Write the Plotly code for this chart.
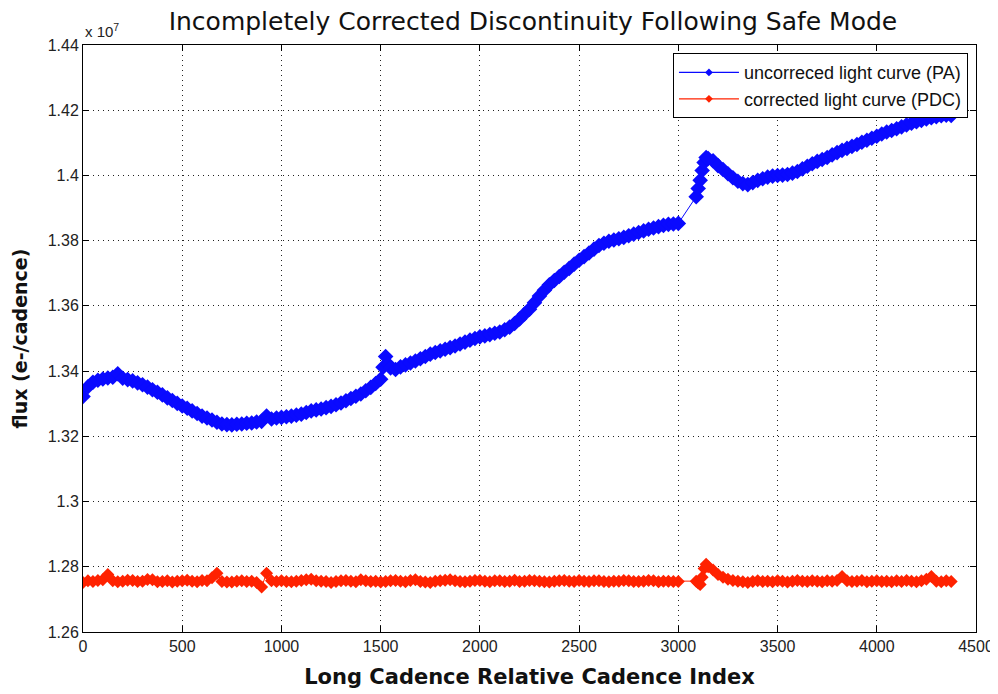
import plotly.graph_objects as go

# ---- data (flux in units of 1e7 e-/cadence) ----
# cadence samples: before the safe-mode gap, and after it
pa_cadence = (list(range(0, 1501, 25)) + [1512, 1525, 1537] + list(range(1550, 3001, 25))
              + [3090, 3100, 3110, 3120, 3130, 3140, 3150] + list(range(3175, 4376, 25)))
pa_flux = [
    1.3322, 1.3352, 1.3366, 1.3372, 1.3376, 1.3379, 1.3381, 1.3392, 1.3378, 1.3374,
    1.3370, 1.3364, 1.3358, 1.3351, 1.3343, 1.3335, 1.3327, 1.3318, 1.3310, 1.3301,
    1.3293, 1.3286, 1.3278, 1.3270, 1.3262, 1.3256, 1.3250, 1.3243, 1.3238, 1.3236,
    1.3235, 1.3237, 1.3238, 1.3240, 1.3241, 1.3244, 1.3246, 1.3262, 1.3253, 1.3256,
    1.3258, 1.3260, 1.3262, 1.3265, 1.3268, 1.3273, 1.3278, 1.3281, 1.3284, 1.3288,
    1.3292, 1.3297, 1.3302, 1.3309, 1.3316, 1.3323, 1.3330, 1.3340, 1.3350, 1.3362,
    1.3375, 1.3412, 1.3445, 1.3422, 1.3410, 1.3405, 1.3413, 1.3419, 1.3425, 1.3431,
    1.3438, 1.3445,
    1.3452, 1.3457, 1.3462, 1.3467, 1.3472, 1.3477, 1.3483, 1.3489, 1.3495, 1.3500,
    1.3505, 1.3508, 1.3512, 1.3516, 1.3520, 1.3527, 1.3535, 1.3546, 1.3560, 1.3575,
    1.3590, 1.3610, 1.3630, 1.3648, 1.3665, 1.3678, 1.3690, 1.3703, 1.3715, 1.3728,
    1.3740, 1.3751, 1.3762, 1.3774, 1.3785, 1.3792, 1.3798, 1.3802, 1.3806, 1.3810,
    1.3815, 1.3820, 1.3825, 1.3830, 1.3835, 1.3839, 1.3843, 1.3847, 1.3850, 1.3851,
    1.3853,
    1.3935, 1.3960, 1.3985, 1.4015, 1.4040, 1.4055, 1.4052,
    1.4045, 1.4030, 1.4018, 1.4005, 1.3993, 1.3982, 1.3975, 1.3972, 1.3978,
    1.3985, 1.3990, 1.3995, 1.3998, 1.4000, 1.4001, 1.4003, 1.4007, 1.4012,
    1.4020, 1.4028, 1.4036, 1.4043, 1.4049, 1.4055, 1.4063, 1.4070, 1.4077,
    1.4083, 1.4089, 1.4095, 1.4102, 1.4108, 1.4114, 1.4120, 1.4127, 1.4133,
    1.4138, 1.4143, 1.4149, 1.4155, 1.4160, 1.4165, 1.4169, 1.4173, 1.4177,
    1.4180, 1.4183, 1.4185, 1.4184,
]

pdc_cadence = list(range(0, 3001, 25)) + [3090, 3100, 3110, 3120, 3130, 3140, 3150] + list(range(3175, 4376, 25))
pdc_flux = [
    1.2752, 1.2757, 1.2755, 1.2758, 1.2760, 1.2776, 1.2757, 1.2754, 1.2756, 1.2759,
    1.2758, 1.2755, 1.2756, 1.2761, 1.2760, 1.2754, 1.2755, 1.2757, 1.2753, 1.2756,
    1.2757, 1.2759, 1.2756, 1.2754, 1.2758, 1.2757, 1.2766, 1.2780, 1.2755, 1.2753,
    1.2753, 1.2756, 1.2757, 1.2755, 1.2756, 1.2752, 1.2738, 1.2780, 1.2757, 1.2755,
    1.2757, 1.2755, 1.2754, 1.2756, 1.2758, 1.2760, 1.2762, 1.2757, 1.2756, 1.2755,
    1.2752, 1.2755, 1.2757, 1.2758, 1.2756, 1.2754, 1.2760, 1.2757, 1.2755, 1.2756,
    1.2753, 1.2755, 1.2757, 1.2758, 1.2756, 1.2754, 1.2758, 1.2760, 1.2755, 1.2753,
    1.2752, 1.2756, 1.2757, 1.2759, 1.2760, 1.2757, 1.2755, 1.2754, 1.2756, 1.2758,
    1.2758, 1.2756, 1.2754, 1.2757, 1.2757, 1.2755, 1.2756, 1.2759, 1.2755, 1.2756,
    1.2758, 1.2757, 1.2756, 1.2754, 1.2753, 1.2756, 1.2757, 1.2758, 1.2756, 1.2755,
    1.2758, 1.2756, 1.2755, 1.2757, 1.2757, 1.2755, 1.2754, 1.2756, 1.2756, 1.2758,
    1.2757, 1.2755, 1.2755, 1.2756, 1.2758, 1.2757, 1.2754, 1.2756, 1.2756, 1.2755,
    1.2755,
    1.2756, 1.2750, 1.2746, 1.2768, 1.2795, 1.2808, 1.2800,
    1.2790, 1.2776, 1.2768, 1.2762, 1.2758, 1.2756, 1.2754, 1.2752, 1.2755,
    1.2757, 1.2755, 1.2756, 1.2754, 1.2757, 1.2756, 1.2753, 1.2756, 1.2758,
    1.2756, 1.2755, 1.2757, 1.2756, 1.2754, 1.2757, 1.2756, 1.2758, 1.2770,
    1.2757, 1.2755, 1.2756, 1.2758, 1.2754, 1.2756, 1.2757, 1.2755, 1.2756,
    1.2754, 1.2757, 1.2755, 1.2758, 1.2756, 1.2754, 1.2757, 1.2762, 1.2770,
    1.2756, 1.2754, 1.2757, 1.2755,
]

y_ticks = [1.26, 1.28, 1.30, 1.32, 1.34, 1.36, 1.38, 1.40, 1.42, 1.44]
y_tick_labels = ["1.26", "1.28", "1.3", "1.32", "1.34", "1.36", "1.38", "1.4", "1.42", "1.44"]
x_ticks = [0, 500, 1000, 1500, 2000, 2500, 3000, 3500, 4000, 4500]

BLUE = "#0a0aff"
RED = "#ff2200"
FONT = "Liberation Sans, Arial, sans-serif"
WIDE = "DejaVu Sans, Liberation Sans, sans-serif"

fig = go.Figure()
fig.add_trace(go.Scatter(x=pa_cadence, y=pa_flux, mode="lines+markers",
                         line=dict(color=BLUE, width=1),
                         marker=dict(symbol="diamond", size=12, color=BLUE),
                         showlegend=False))
fig.add_trace(go.Scatter(x=pdc_cadence, y=pdc_flux, mode="lines+markers",
                         line=dict(color=RED, width=1),
                         marker=dict(symbol="diamond", size=10, color=RED),
                         showlegend=False))
# legend entries (small markers, like the reference)
fig.add_trace(go.Scatter(x=[None], y=[None], mode="lines+markers",
                         name="uncorreced light curve (PA)",
                         line=dict(color=BLUE, width=1.2),
                         marker=dict(symbol="diamond", size=6, color=BLUE)))
fig.add_trace(go.Scatter(x=[None], y=[None], mode="lines+markers",
                         name="corrected light curve (PDC)",
                         line=dict(color=RED, width=1.2),
                         marker=dict(symbol="diamond", size=6, color=RED)))

axis_common = dict(showline=True, linecolor="black", linewidth=1, mirror="ticks",
                   ticks="inside", ticklen=6, tickcolor="black", automargin=False,
                   showgrid=True, gridcolor="#222", gridwidth=1, griddash="1px,4px",
                   zeroline=False, tickfont=dict(family=FONT, size=16, color="#222"))

fig.update_xaxes(range=[0, 4500], tickvals=x_ticks,
                 title=dict(text="<b>Long Cadence Relative Cadence Index</b>",
                            font=dict(family=WIDE, size=21, color="#111")),
                 **axis_common)
fig.update_yaxes(range=[1.26, 1.44], tickvals=y_ticks, ticktext=y_tick_labels,
                 title=dict(text="<b>flux (e-/cadence)</b>",
                            font=dict(family=WIDE, size=19, color="#111")),
                 **axis_common)

fig.update_layout(
    width=998, height=694,
    margin=dict(l=75, r=30, t=37, b=70),
    paper_bgcolor="white", plot_bgcolor="white",
    title=dict(text="Incompletely Corrected Discontinuity Following Safe Mode",
               x=0.526, xanchor="center", y=0.993, yanchor="top",
               pad=dict(t=0, b=0),
               font=dict(family=WIDE, size=25, color="#111")),
    legend=dict(x=0.991, xanchor="right", y=0.986, yanchor="top",
                bgcolor="white", bordercolor="black", borderwidth=1,
                font=dict(family=FONT, size=18, color="#111"),
                itemwidth=60, tracegroupgap=0),
    annotations=[dict(text="x 10<sup>7</sup>", xref="paper", yref="paper",
                      x=0.0, y=1.0, xanchor="left", yanchor="bottom", yshift=3,
                      showarrow=False, font=dict(family=FONT, size=15, color="#222"))],
)

fig.write_html("out.html")
